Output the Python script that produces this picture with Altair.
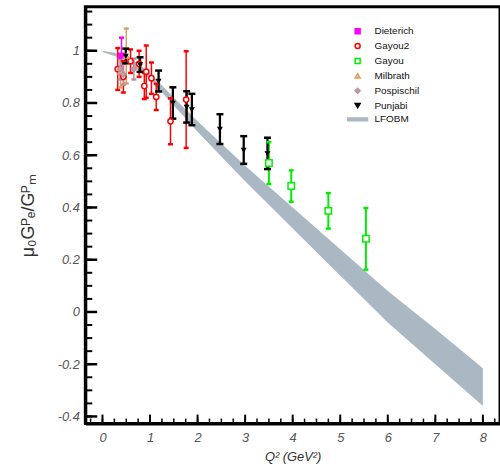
import altair as alt
import pandas as pd

# ---------------- data ----------------
series_names = ["Dieterich", "Gayou2", "Gayou", "Milbrath", "Pospischil", "Punjabi", "LFOBM"]
stroke_colors = ["#ff00ff", "#ff0000", "#00ee00", "#d9a066", "#b8909f", "#000000", "#a9b8c3"]
fill_colors = ["#ff00ff", "#ffffff", "#ffffff", "#efc9a0", "#c9a3b2", "#000000", "#a9b8c3"]
shapes = ["square", "circle", "square", "triangle-up", "diamond", "triangle-down",
          "M-4,-0.55L4,-0.55L4,0.55L-4,0.55Z"]

dieterich_q2 = [0.40]
dieterich_val = [0.98]
dieterich_err = [0.07]

gayou2_q2 = [0.32, 0.44, 0.59, 0.77, 0.88, 0.92, 1.03, 1.13, 1.43, 1.76]
gayou2_val = [0.93, 0.90, 0.96, 0.95, 0.865, 0.92, 0.895, 0.823, 0.73, 0.813]
gayou2_err = [0.08, 0.06, 0.045, 0.05, 0.05, 0.10, 0.06, 0.05, 0.088, 0.185]

gayou_q2 = [3.50, 3.97, 4.75, 5.54]
gayou_val = [0.57, 0.482, 0.387, 0.28]
gayou_err = [0.08, 0.06, 0.068, 0.118]

milbrath_q2 = [0.38, 0.50]
milbrath_val = [0.92, 0.98]
milbrath_err = [0.06, 0.105]

pospischil_q2 = [0.37, 0.44, 0.66]
pospischil_val = [0.93, 0.91, 0.93]
pospischil_err = [0.04, 0.04, 0.04]

punjabi_q2 = [0.49, 0.79, 1.18, 1.48, 1.77, 1.88, 2.47, 2.97, 3.47]
punjabi_val = [0.98, 0.947, 0.884, 0.80, 0.785, 0.775, 0.70, 0.62, 0.607]
punjabi_err = [0.028, 0.028, 0.04, 0.06, 0.06, 0.06, 0.057, 0.053, 0.06]

band_q2 = [0.0, 0.5, 1.0, 1.5, 2.0, 3.0, 4.0, 5.0, 6.0, 7.0, 8.0]
band_upper = [1.00, 0.985, 0.915, 0.82, 0.73, 0.56, 0.40, 0.24, 0.08, -0.065, -0.215]
band_lower = [0.995, 0.965, 0.89, 0.79, 0.69, 0.50, 0.32, 0.14, -0.04, -0.20, -0.36]

x_major = [0, 1, 2, 3, 4, 5, 6, 7, 8]
x_minor = [i * 0.25 for i in range(-1, 34)]
y_major = [-0.4, -0.2, 0, 0.2, 0.4, 0.6, 0.8, 1.0]
y_minor = [round(-0.4 + i * 0.05, 2) for i in range(32)]

# ---------------- tables ----------------
rows = []
for name, qs, vs, es in [
    ("Dieterich", dieterich_q2, dieterich_val, dieterich_err),
    ("Gayou2", gayou2_q2, gayou2_val, gayou2_err),
    ("Gayou", gayou_q2, gayou_val, gayou_err),
    ("Milbrath", milbrath_q2, milbrath_val, milbrath_err),
    ("Pospischil", pospischil_q2, pospischil_val, pospischil_err),
    ("Punjabi", punjabi_q2, punjabi_val, punjabi_err),
]:
    for q, v, e in zip(qs, vs, es):
        rows.append({"series": name, "q2": q, "val": v, "lo": v - e, "hi": v + e})
pts = pd.DataFrame(rows)
band = pd.DataFrame({"q2": band_q2, "up": band_upper, "low": band_lower,
                     "series": ["LFOBM"] * len(band_q2)})

W, H = 418, 420
xdom = [-0.361, 8.36]
ydom = [-0.427, 1.168]
xs = alt.Scale(domain=xdom, nice=False, zero=False)
ys = alt.Scale(domain=ydom, nice=False, zero=False)

FONT = "Liberation Sans"
stroke_scale = alt.Scale(domain=series_names, range=stroke_colors)
fill_scale = alt.Scale(domain=series_names, range=fill_colors)
shape_scale = alt.Scale(domain=series_names, range=shapes)

legend = alt.Legend(title=None, orient="none", legendX=269.5, legendY=19.5,
                    labelFont=FONT, labelFontSize=10, labelColor="#111",
                    labelOffset=12, rowPadding=3.0, symbolSize=25,
                    symbolStrokeWidth=1.5, padding=0)

ax_y = alt.Axis(values=y_major, ticks=False, domain=True,
                domainWidth=3, domainColor="black", grid=False,
                labelFont=FONT, labelFontStyle="italic", labelColor="#555",
                labelFontSize=13, labelPadding=6,
                labelExpr="replace(format(datum.value, '~g'), '\u2212', '-')",
                title="\u03bc\u2080G\u1d3e\u2091/G\u1d3e\u2098",
                titleFont=FONT, titleFontSize=18, titleFontWeight="normal",
                titleColor="#333", titlePadding=20)
ax_x = alt.Axis(values=x_major, ticks=False, domain=True,
                domainWidth=3, domainColor="black", grid=False,
                labelFont=FONT, labelFontStyle="italic", labelColor="#555",
                labelFontSize=13, labelPadding=8,
                title="Q\u00b2 (GeV\u00b2)", titleFont=FONT, titleFontSize=13,
                titleFontStyle="italic", titleFontWeight="normal",
                titleColor="#333", titlePadding=6)

band_layer = alt.Chart(band).mark_area(opacity=1).encode(
    x=alt.X("q2:Q", scale=xs, axis=ax_x),
    y=alt.Y("up:Q", scale=ys, axis=ax_y),
    y2="low:Q",
    fill=alt.Fill("series:N", scale=fill_scale, legend=legend),
)

# inward-pointing axis ticks (values from the tick lists, mapped through the scales)
ytick_major = alt.Chart(pd.DataFrame({"v": y_major})).mark_rule(
    color="black", strokeWidth=2.5).encode(
    y=alt.Y("v:Q", scale=ys, axis=ax_y), x=alt.value(0), x2=alt.value(12))
ytick_minor = alt.Chart(pd.DataFrame({"v": y_minor})).mark_rule(
    color="black", strokeWidth=2).encode(
    y=alt.Y("v:Q", scale=ys, axis=ax_y), x=alt.value(0), x2=alt.value(7))
xtick_major = alt.Chart(pd.DataFrame({"v": x_major})).mark_rule(
    color="black", strokeWidth=2).encode(
    x=alt.X("v:Q", scale=xs, axis=ax_x), y=alt.value(H), y2=alt.value(H - 9))
xtick_minor = alt.Chart(pd.DataFrame({"v": x_minor})).mark_rule(
    color="black", strokeWidth=1.5).encode(
    x=alt.X("v:Q", scale=xs, axis=ax_x), y=alt.value(H), y2=alt.value(H - 5))

is_pun = alt.datum.series == "Punjabi"
is_gay = alt.datum.series == "Gayou"

bar_layer = alt.Chart(pts).mark_rule().encode(
    x=alt.X("q2:Q", scale=xs, axis=ax_x),
    y=alt.Y("lo:Q", scale=ys, axis=ax_y),
    y2="hi:Q",
    stroke=alt.Stroke("series:N", scale=stroke_scale, legend=legend),
    strokeWidth=alt.when(is_pun).then(alt.value(2.3)).when(is_gay).then(alt.value(2.0)).otherwise(alt.value(1.5)),
)

cap_layer = alt.Chart(pts).transform_fold(["lo", "hi"], as_=["k", "cap"]).mark_tick(
    orient="horizontal", opacity=1, thickness=2.5
).encode(
    x=alt.X("q2:Q", scale=xs, axis=ax_x),
    y=alt.Y("cap:Q", scale=ys, axis=ax_y),
    color=alt.Color("series:N", scale=stroke_scale, legend=None),
    size=alt.when(is_pun).then(alt.value(7)).otherwise(alt.value(5)),
)

point_layer = alt.Chart(pts).mark_point(opacity=1, fillOpacity=1, strokeWidth=1.5).encode(
    x=alt.X("q2:Q", scale=xs, axis=ax_x),
    y=alt.Y("val:Q", scale=ys, axis=ax_y),
    shape=alt.Shape("series:N", scale=shape_scale, legend=legend),
    fill=alt.Fill("series:N", scale=fill_scale, legend=legend),
    stroke=alt.Stroke("series:N", scale=stroke_scale, legend=legend),
    size=alt.when(is_pun).then(alt.value(12)).when(is_gay).then(alt.value(42)).otherwise(alt.value(28)),
)

chart = alt.layer(band_layer, ytick_major, ytick_minor, xtick_major, xtick_minor,
                  bar_layer, cap_layer, point_layer).properties(
    width=W, height=H,
    autosize=alt.AutoSizeParams(type="none"),
    padding={"left": 86, "top": 5, "right": 0, "bottom": 51},
    background="white",
).configure_view(stroke="black", strokeWidth=3)

chart.save("out.html", embed_options={"renderer": "svg", "actions": False})
